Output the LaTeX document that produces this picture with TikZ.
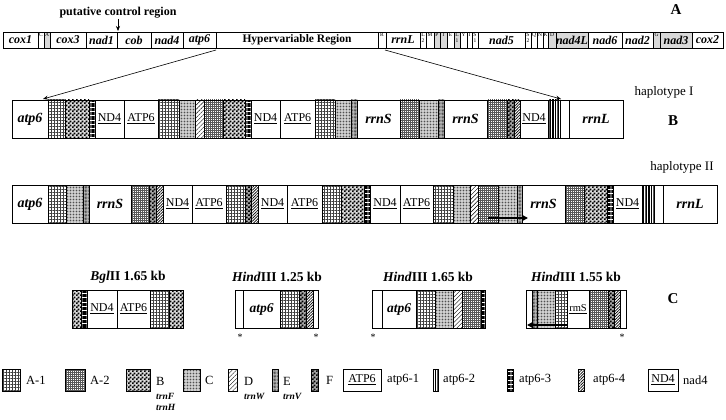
\documentclass[tikz,border=0pt]{standalone}
\usepackage{fontspec}
\setmainfont{Liberation Serif}
\usetikzlibrary{patterns,patterns.meta,arrows.meta}
\pgfdeclarepatternformonly{finechk}{\pgfqpoint{0pt}{0pt}}{\pgfqpoint{4pt}{4pt}}{\pgfqpoint{4pt}{4pt}}{%
  \pgfpathrectangle{\pgfqpoint{0pt}{0pt}}{\pgfqpoint{2pt}{2pt}}%
  \pgfpathrectangle{\pgfqpoint{2pt}{2pt}}{\pgfqpoint{2pt}{2pt}}%
  \pgfusepath{fill}}
\newcommand\cellx[3][]{\draw[cellbox,#1] (#2,\ya) rectangle (#3,\yb);}
\newcommand\lab[4][]{\node[#1] at ({(#2+#3)/2},{(\ya+\yb)/2}) {#4};}
\newcommand\tl[3]{\node[tinyl,anchor=north] at ({(#1+#2)/2},{\ya+0.8}) {#3};}
\tikzset{
 cellbox/.style={draw=black, line width=0.6pt},
 shadeA/.style={fill=gray!30},
 pAone/.style={pattern={Hatch[distance=3pt,line width=0.25pt]}, pattern color=black!75},
 pAtwo/.style={pattern={Hatch[distance=2pt,line width=0.15pt]}, pattern color=black!65},
 pB/.style={preaction={fill=gray!30}, pattern=finechk},
 pC/.style={preaction={fill=gray!22}, pattern={Dots[distance=1.5pt,radius=0.3pt]}},
 pD/.style={pattern={Lines[angle=45,distance=3pt,line width=0.45pt]}},
 pE/.style={preaction={fill=gray!50}, pattern={Dots[distance=1.4pt,radius=0.4pt]}},
 pF/.style={preaction={fill=gray!70}, pattern=finechk},
 ptwo/.style={pattern={Lines[angle=90,distance=1.6pt,line width=0.4pt]}},
 pthree/.style={pattern={Lines[angle=0,distance=1.3pt,line width=0.45pt]}},
 pfour/.style={pattern={Lines[angle=45,distance=2pt,line width=0.7pt]}},
 gA/.style={font=\fontsize{12}{12}\bfseries\itshape\selectfont, inner sep=0},
 hv/.style={font=\fontsize{11.5}{12}\bfseries\selectfont, inner sep=0},
 tinyl/.style={font=\fontsize{5.5}{6}\selectfont, inner sep=0, align=center},
 gB/.style={font=\fontsize{14}{14}\bfseries\itshape\selectfont, inner sep=0},
 ul/.style={font=\fontsize{12}{12}\selectfont, inner sep=0},
 big/.style={font=\fontsize{15}{15}\bfseries\selectfont, inner sep=0},
 hap/.style={font=\fontsize{13}{13}\selectfont, inner sep=0},
 ttl/.style={font=\fontsize{13.5}{14}\bfseries\selectfont, inner sep=0},
 gC/.style={font=\fontsize{13.5}{14}\bfseries\itshape\selectfont, inner sep=0},
 leg/.style={font=\fontsize{12.5}{13}\selectfont, inner sep=0, anchor=west},
 legi/.style={font=\fontsize{9.5}{10}\bfseries\itshape\selectfont, inner sep=0, anchor=west},
 star/.style={font=\fontsize{10}{10}\selectfont, inner sep=0},
 conn/.style={-{Stealth[length=5pt,width=4pt]}, line width=0.6pt},
 thickarr/.style={line width=2.2pt, -{Triangle[length=6pt,width=6pt]}},
}
\begin{document}
\begin{tikzpicture}[x=1pt,y=-1pt]
\useasboundingbox[fill=white] (0,0) rectangle (726,420);

% ---------- A ----------
\node[font=\fontsize{12}{12}\bfseries\selectfont, inner sep=0] (pcr) at (118,13) {putative control region};
\coordinate (pcrtip) at (118,31);
\draw[conn] (118,19) -- (pcrtip);
\node[big] (labA) at (676,10) {A};

\def\ya{32}\def\yb{48}
\cellx{3}{38}\lab[gA]{3}{38}{cox1}
\cellx{38}{44}\tl{38}{44}{C}
\cellx[shadeA]{44}{50}\tl{44}{50}{A}
\cellx{50}{86}\lab[gA]{50}{86}{cox3}
\cellx{86}{117}\lab[gA]{86}{117}{nad1}
\cellx{117}{151}\lab[gA]{117}{151}{cob}
\cellx{151}{183}\lab[gA]{151}{183}{nad4}
\cellx{183}{216}\lab[gA]{183}{216}{atp6}
\cellx{216}{378}\lab[hv]{216}{378}{Hypervariable Region}
\cellx{378}{386}\tl{378}{386}{R}
\cellx{386}{420}\lab[gA]{386}{420}{rrnL}
\cellx{420}{426}\tl{420}{426}{L\\2}
\cellx{426}{434}\tl{426}{434}{M}
\cellx[shadeA]{434}{440}\tl{434}{440}{P}
\cellx[shadeA]{440}{447}\tl{440}{447}{T}
\cellx{447}{454}\tl{447}{454}{E}
\cellx[shadeA]{454}{460}\tl{454}{460}{L\\1}
\cellx{460}{467}\tl{460}{467}{Y}
\cellx{467}{472}\tl{467}{472}{I}
\cellx{472}{478}\tl{472}{478}{S\\1}
\cellx{478}{525}\lab[gA]{478}{525}{nad5}
\cellx{525}{531}\tl{525}{531}{S\\2}
\cellx{531}{537}\tl{531}{537}{Q}
\cellx{537}{543}\tl{537}{543}{N}
\cellx{543}{548}\tl{543}{548}{K}
\cellx[shadeA]{548}{556}\tl{548}{556}{D}
\cellx[shadeA]{556}{588}\lab[gA]{556}{588}{nad4L}
\cellx{588}{622}\lab[gA]{588}{622}{nad6}
\cellx{622}{653}\lab[gA]{622}{653}{nad2}
\cellx[shadeA]{653}{660}\tl{653}{660}{G}
\cellx[shadeA]{660}{692}\lab[gA]{660}{692}{nad3}
\cellx{692}{723}\lab[gA]{692}{723}{cox2}

\coordinate (hvl) at (216,50);
\coordinate (hvr) at (385,50);
\coordinate (bl) at (43,99);
\coordinate (br) at (561,99);
\draw[conn] (hvl) -- (bl);
\draw[conn] (hvr) -- (br);

% ---------- B haplotype I ----------
\node[hap] (hapI) at (664,92) {haplotype I};
\node[big] (labB) at (673,121) {B};
\def\ya{100}\def\yb{138}
\cellx{12}{48}\lab[gB]{12}{48}{atp6}
\cellx[pAone]{48}{65}
\cellx[pB]{65}{89}
\cellx[pthree]{89}{95}
\cellx{95}{124}\lab[ul]{95}{124}{\underline{ND4}}
\cellx{124}{158}\lab[ul]{124}{158}{\underline{ATP6}}
\cellx[pAone]{158}{179}
\cellx[pC]{179}{195}
\cellx[pD]{195}{204}
\cellx[pAtwo]{204}{223}
\cellx[pB]{223}{245}
\cellx[pthree]{245}{251}
\cellx{251}{280}\lab[ul]{251}{280}{\underline{ND4}}
\cellx{280}{315}\lab[ul]{280}{315}{\underline{ATP6}}
\cellx[pAone]{315}{335}
\cellx[pC]{335}{351}
\cellx[pE]{351}{357}
\cellx{357}{400}\lab[gB]{357}{400}{rrnS}
\cellx[pAtwo]{400}{419}
\cellx[pC]{419}{438}
\cellx[pE]{438}{444}
\cellx{444}{487}\lab[gB]{444}{487}{rrnS}
\cellx[pAtwo]{487}{507}
\cellx[pF]{507}{514}
\cellx[pfour]{514}{520}
\cellx{520}{548}\lab[ul]{520}{548}{\underline{ND4}}
\cellx[ptwo]{548}{560}
\cellx{560}{569}
\cellx{569}{623}\lab[gB]{569}{623}{rrnL}

% ---------- haplotype II ----------
\node[hap] (hapII) at (682,167) {haplotype II};
\def\ya{185}\def\yb{223}
\cellx{12}{48}\lab[gB]{12}{48}{atp6}
\cellx[pAone]{48}{66}
\cellx[pC]{66}{83}
\cellx[pE]{83}{89}
\cellx{89}{131}\lab[gB]{89}{131}{rrnS}
\cellx[pAtwo]{131}{149}
\cellx[pF]{149}{156}
\cellx[pfour]{156}{163}
\cellx{163}{192}\lab[ul]{163}{192}{\underline{ND4}}
\cellx{192}{226}\lab[ul]{192}{226}{\underline{ATP6}}
\cellx[pAone]{226}{245}
\cellx[pF]{245}{251}
\cellx[pfour]{251}{258}
\cellx{258}{287}\lab[ul]{258}{287}{\underline{ND4}}
\cellx{287}{322}\lab[ul]{287}{322}{\underline{ATP6}}
\cellx[pAone]{322}{341}
\cellx[pB]{341}{364}
\cellx[pthree]{364}{370}
\cellx{370}{400}\lab[ul]{370}{400}{\underline{ND4}}
\cellx{400}{433}\lab[ul]{400}{433}{\underline{ATP6}}
\cellx[pAone]{433}{453}
\cellx[pC]{453}{470}
\cellx[pD]{470}{478}
\cellx[pAtwo]{478}{498}
\cellx[pC]{498}{517}
\cellx[pE]{517}{522}
\cellx{522}{565}\lab[gB]{522}{565}{rrnS}
\cellx[pAtwo]{565}{584}
\cellx[pB]{584}{607}
\cellx[pthree]{607}{613}
\cellx{613}{642}\lab[ul]{613}{642}{\underline{ND4}}
\cellx[ptwo]{642}{654}
\cellx{654}{663}
\cellx{663}{717}\lab[gB]{663}{717}{rrnL}
\coordinate (h2s) at (488,218);
\coordinate (h2e) at (528,218);
\draw[thickarr] (h2s) -- (h2e);

% ---------- C ----------
\node[big] (labC) at (673,299) {C};
\node[ttl] (t1) at (128,277) {\textit{Bgl}II 1.65 kb};
\node[ttl] (t2) at (277,277) {\textit{Hind}III 1.25 kb};
\node[ttl] (t3) at (428,277) {\textit{Hind}III 1.65 kb};
\node[ttl] (t4) at (576,277) {\textit{Hind}III 1.55 kb};
\def\ya{290}\def\yb{328}
% BglII
\cellx[pB]{72}{81}
\cellx[pthree]{81}{87}
\cellx{87}{117}\lab[ul]{87}{117}{\underline{ND4}}
\cellx{117}{150}\lab[ul]{117}{150}{\underline{ATP6}}
\cellx[pAone]{150}{169}
\cellx[pB]{169}{183}
% HindIII 1.25
\cellx{235}{243}
\cellx{243}{280}\lab[gC]{243}{280}{atp6}
\cellx[pAone]{280}{299}
\cellx[pF]{299}{306}
\cellx[pfour]{306}{313}
\cellx{313}{318}
% HindIII 1.65
\cellx{372}{382}
\cellx{382}{416}\lab[gC]{382}{416}{atp6}
\cellx[pAone]{416}{435}
\cellx[pC]{435}{453}
\cellx[pD]{453}{462}
\cellx[pAtwo]{462}{481}
\cellx[pthree]{481}{485}
% HindIII 1.55
\cellx{526}{532}
\cellx[pE]{532}{537}
\cellx[pC]{537}{555}
\cellx[pAone]{555}{567}
\cellx{567}{589}\lab[font=\fontsize{10.5}{11}\selectfont, inner sep=0]{567}{589}{\underline{rmS}}
\cellx[pAtwo]{589}{608}
\cellx[pF]{608}{614}
\cellx[pfour]{614}{620}
\cellx{620}{626}
\coordinate (c4s) at (567,325);
\coordinate (c4e) at (527,325);
\draw[thickarr] (c4s) -- (c4e);
\node[star] (s1) at (240,337) {*};
\node[star] (s2) at (316,337) {*};
\node[star] (s3) at (373,337) {*};
\node[star] (s4) at (622,337) {*};

% ---------- Legend ----------
\def\ya{369}\def\yb{391}
\cellx[pAone]{2}{20}   \node[leg] at (26,380) {A-1};
\cellx[pAtwo]{65}{85}  \node[leg] at (90,380) {A-2};
\cellx[pB]{126}{150}   \node[leg] at (156,381) {B};
\node[legi] at (156,396) {trnF};
\node[legi] at (156,407) {trnH};
\cellx[pC]{183}{200}   \node[leg] at (205,380) {C};
\cellx[pD]{228}{237}   \node[leg] at (244,381) {D};
\node[legi] at (244,396) {trnW};
\cellx[pE]{272}{278}   \node[leg] at (283,381) {E};
\node[legi] at (283,396) {trnV};
\cellx[pF]{311}{318}   \node[leg] at (326,380) {F};
\cellx{343}{381}\lab[ul]{343}{381}{\underline{ATP6}}
\node[leg] at (387,380) {atp6-1};
\cellx[ptwo]{433}{438}  \node[leg] at (443,380) {atp6-2};
\cellx[pthree]{507}{513} \node[leg] at (519,380) {atp6-3};
\cellx[pfour]{578}{584}  \node[leg] at (593,380) {atp6-4};
\cellx{648}{678}\lab[ul]{648}{678}{\underline{ND4}}
\node[leg] at (683,380) {nad4};
\end{tikzpicture}
\end{document}
